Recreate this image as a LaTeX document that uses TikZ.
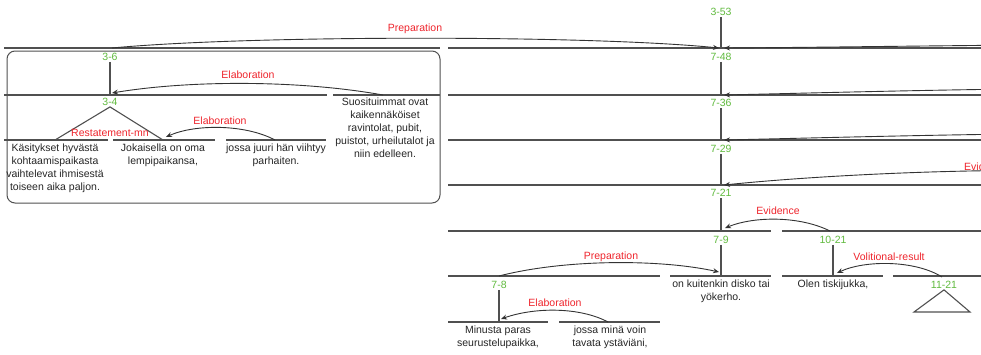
\documentclass[tikz,border=0pt]{standalone}
\usepackage{fontspec}
\setmainfont{Liberation Sans}
\usetikzlibrary{arrows.meta}
\definecolor{idgreen}{RGB}{96,186,62}
\definecolor{relred}{RGB}{238,36,44}
\definecolor{spangray}{RGB}{80,80,80}
\begin{document}
\begin{tikzpicture}[x=1pt,y=-1pt,
  every node/.style={font=\fontsize{10.5}{13}\selectfont},
  span/.style={draw=spangray,line width=1.3pt},
  stem/.style={draw=spangray,line width=1.1pt},
  nid/.style={text=idgreen,inner sep=1pt},
  rel/.style={text=relred,inner sep=1pt},
  seg/.style={align=center,anchor=north,inner sep=0pt,text=black!85},
  arc/.style={draw=black!80,line width=0.9pt,-{Stealth[length=6pt,width=5pt]}},
  grp/.style={draw=spangray,line width=1pt,rounded corners=8pt}
]
\useasboundingbox (0,0) rectangle (981,354);
\clip (0,0) rectangle (981,354);

% collapsed group 3-6
\node[grp,minimum width=433pt,minimum height=152pt,inner sep=0pt] (group) at (223.5,127) {};

% span lines, left group
\draw[span] (4,48) -- (440,48);
\draw[span] (4,95) -- (327,95);
\draw[span] (333,95) -- (440,95);
\draw[span] (4,140) -- (108,140);
\draw[span] (113,140) -- (215,140);
\draw[span] (226,140) -- (326,140);

% span lines, right part
\draw[span] (448,48) -- (981,48);
\draw[span] (448,95) -- (981,95);
\draw[span] (448,140) -- (981,140);
\draw[span] (448,185) -- (981,185);
\draw[span] (448,231) -- (771,231);
\draw[span] (782,231) -- (981,231);
\draw[span] (448,276) -- (660,276);
\draw[span] (670,276) -- (771,276);
\draw[span] (782,276) -- (883,276);
\draw[span] (893,276) -- (981,276);
\draw[span] (448,322) -- (548,322);
\draw[span] (559,322) -- (660,322);

% node ids
\node[nid] (n36) at (110,57) {3-6};
\node[nid] (n34) at (110,102) {3-4};
\node[nid] (n353) at (721,12) {3-53};
\node[nid] (n748) at (721,57) {7-48};
\node[nid] (n736) at (721,103) {7-36};
\node[nid] (n729) at (721,149) {7-29};
\node[nid] (n721) at (721,193) {7-21};
\node[nid] (n79) at (721,240) {7-9};
\node[nid] (n1021) at (833,240) {10-21};
\node[nid] (n78) at (499,285) {7-8};
\node[nid] (n1121) at (944,285) {11-21};

% stem ends on span lines
\coordinate (c34) at (110,95);
\coordinate (c748) at (721,48);
\coordinate (c736) at (721,95);
\coordinate (c729) at (721,140);
\coordinate (c721) at (721,185);
\coordinate (c79) at (721,231);
\coordinate (c7a) at (721,276);
\coordinate (c10a) at (833,276);
\coordinate (c78a) at (499,322);
\coordinate (mnL) at (55,140);
\coordinate (mnR) at (163,140);
\coordinate (triL) at (914,312);
\coordinate (triR) at (970,312);

\draw[stem] (n36.south) -- (c34);
\draw[stem] (n353.south) -- (c748);
\draw[stem] (n748.south) -- (c736);
\draw[stem] (n736.south) -- (c729);
\draw[stem] (n729.south) -- (c721);
\draw[stem] (n721.south) -- (c79);
\draw[stem] (n79.south) -- (c7a);
\draw[stem] (n1021.south) -- (c10a);
\draw[stem] (n78.south) -- (c78a);
\draw[stem] (mnL) -- (n34.south) -- (mnR);
\draw[stem] (n1121.south) -- (triL) -- (triR) -- cycle;

% text segments
\node[seg] (s1) at (55,144) {Käsitykset hyvästä\\kohtaamispaikasta\\vaihtelevat ihmisestä\\toiseen aika paljon.};
\node[seg] (s2) at (163,144) {Jokaisella on oma\\lempipaikansa,};
\node[seg] (s3) at (276,144) {jossa juuri hän viihtyy\\parhaiten.};
\node[seg] (s4) at (385,98) {Suosituimmat ovat\\kaikennäköiset\\ravintolat, pubit,\\puistot, urheilutalot ja\\niin edelleen.};
\node[seg] (s5) at (721,280) {on kuitenkin disko tai\\yökerho.};
\node[seg] (s6) at (833,280) {Olen tiskijukka,};
\node[seg] (s7) at (498,326) {Minusta paras\\seurustelupaikka,};
\node[seg] (s8) at (610,326) {jossa minä voin\\tavata ystäviäni,};

% relation names
\node[rel] (r1) at (415,29) {Preparation};
\node[rel] (r2) at (248,75) {Elaboration};
\node[rel] (r3) at (110,133) {Restatement-mn};
\node[rel] (r4) at (220,121) {Elaboration};
\node[rel,anchor=west] (r5) at (963,167) {Evidence};
\node[rel] (r6) at (778,211) {Evidence};
\node[rel] (r7) at (611,257) {Preparation};
\node[rel] (r8) at (889,257) {Volitional-result};
\node[rel] (r9) at (555,303) {Elaboration};

% arc end points
\coordinate (aPs) at (112,48);   \coordinate (aPt) at (719,48);
\coordinate (aE1s) at (383,95);  \coordinate (aE1t) at (112,93);
\coordinate (aE2s) at (275,140); \coordinate (aE2t) at (166,137);
\coordinate (aEvs) at (830,231); \coordinate (aEvt) at (725,228);
\coordinate (aP2s) at (499,276); \coordinate (aP2t) at (719,272);
\coordinate (aE3s) at (608,322); \coordinate (aE3t) at (501,319);
\coordinate (aVs) at (942,277);  \coordinate (aVt) at (837,273);
\coordinate (x48s) at (1400,48);  \coordinate (x48t) at (724,48);
\coordinate (x95s) at (1350,95);  \coordinate (x95t) at (724,95);
\coordinate (x140s) at (1350,140); \coordinate (x140t) at (724,140);
\coordinate (x185s) at (1250,185); \coordinate (x185t) at (724,185);

% relation arcs
\draw[arc] (aPs) .. controls (250,35) and (590,35) .. (aPt);
\draw[arc] (aE1s) .. controls (300,80) and (190,80) .. (aE1t);
\draw[arc] (aE2s) .. controls (245,124) and (195,124) .. (aE2t);
\draw[arc] (aEvs) .. controls (800,216) and (755,216) .. (aEvt);
\draw[arc] (aP2s) .. controls (565,259) and (660,259) .. (aP2t);
\draw[arc] (aE3s) .. controls (580,307) and (535,307) .. (aE3t);
\draw[arc] (aVs) .. controls (915,260) and (865,260) .. (aVt);
\draw[arc] (x48s) .. controls (1250,40) and (900,47) .. (x48t);
\draw[arc] (x95s) .. controls (1200,82) and (900,91) .. (x95t);
\draw[arc] (x140s) .. controls (1200,127) and (900,136) .. (x140t);
\draw[arc] (x185s) .. controls (1120,160) and (850,172) .. (x185t);
\end{tikzpicture}
\end{document}
